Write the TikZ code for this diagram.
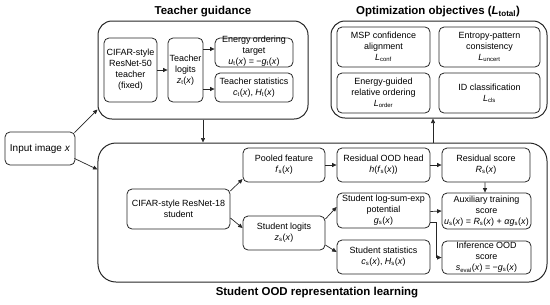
\documentclass[tikz,border=0pt]{standalone}
\usepackage{fontspec}
\setmainfont{Liberation Sans}
\usetikzlibrary{arrows.meta}
\newcommand{\sbs}[1]{\textsubscript{#1}}
\begin{document}
\begin{tikzpicture}[x=1bp,y=-1bp,
  box/.style={draw=black!85, rounded corners=5bp, line width=0.8bp, align=center, inner sep=1bp, font=\fontsize{9}{11}\selectfont},
  outer/.style={draw=black!85, rounded corners=14bp, line width=1bp},
  ttl/.style={font=\fontsize{11.5}{13}\selectfont\bfseries},
  arr/.style={-{Triangle[length=4.5bp,width=4bp]}, line width=0.7bp, draw=black!85}]
\useasboundingbox (0,0) rectangle (550,304);

% outer containers
\node[outer, minimum width=210bp, minimum height=98bp] (tg) at (203,70) {};
\node[outer, minimum width=216bp, minimum height=97bp] (obj) at (439,69.5) {};
\node[outer, rounded corners=18bp, minimum width=449bp, minimum height=139bp] (sg) at (322.5,212.5) {};

% titles
\node[ttl] (tgt) at (203,12) {Teacher guidance};
\node[ttl] (objt) at (438,12) {Optimization objectives (\textit{L}\sbs{total})};
\node[ttl] (sgt) at (317,293) {Student OOD representation learning};

% teacher
\node[box, minimum width=53bp, minimum height=64bp] (r50) at (130.5,70) {CIFAR-style\\ResNet-50\\teacher\\(fixed)};
\node[box, minimum width=35bp, minimum height=64bp] (tl) at (185.5,70) {Teacher\\logits\\\textit{z}\sbs{t}(\textit{x})};
\node[box, minimum width=78bp, minimum height=29bp] (en) at (254,52.5) {};
\node[font=\fontsize{9}{11}\selectfont, align=center, inner sep=0pt] (ent) at (254,51.5) {Energy ordering\\target\\\textit{u}\sbs{t}(\textit{x}) = −\textit{g}\sbs{t}(\textit{x})};
\node[box, minimum width=78bp, minimum height=29bp] (ts) at (254,87.5) {Teacher statistics\\\textit{c}\sbs{t}(\textit{x}), \textit{H}\sbs{t}(\textit{x})};

% objectives
\node[box, minimum width=93bp, minimum height=40bp] (msp) at (383.5,47) {MSP confidence\\alignment\\\textit{L}\sbs{conf}};
\node[box, minimum width=101bp, minimum height=40bp] (entp) at (489.5,47) {Entropy-pattern\\consistency\\\textit{L}\sbs{uncert}};
\node[box, minimum width=93bp, minimum height=40bp] (eg) at (383.5,93) {Energy-guided\\relative ordering\\\textit{L}\sbs{order}};
\node[box, minimum width=101bp, minimum height=40bp] (idc) at (489.5,93) {ID classification\\\textit{L}\sbs{cls}};

% input
\node[box, font=\fontsize{10}{12}\selectfont, minimum width=70bp, minimum height=33bp] (inp) at (40,148.5) {Input image \textit{x}};

% student
\node[box, minimum width=103bp, minimum height=40bp] (s18) at (178.5,209) {CIFAR-style ResNet-18\\student};
\node[box, minimum width=82bp, minimum height=34bp] (pool) at (284,165) {Pooled feature\\\textit{f}\sbs{s}(\textit{x})};
\node[box, minimum width=82bp, minimum height=34bp] (sl) at (284,233) {Student logits\\\textit{z}\sbs{s}(\textit{x})};
\node[box, minimum width=93bp, minimum height=34bp] (rh) at (383.5,165) {Residual OOD head\\\textit{h}(\textit{f}\sbs{s}(\textit{x}))};
\node[box, minimum width=88bp, minimum height=34bp] (rs) at (486,165) {Residual score\\\textit{R}\sbs{s}(\textit{x})};
\node[box, minimum width=93bp, minimum height=35bp] (lse) at (383.5,210.5) {Student log-sum-exp\\potential\\\textit{g}\sbs{s}(\textit{x})};
\node[box, minimum width=93bp, minimum height=34bp] (ss) at (383.5,257) {Student statistics\\\textit{c}\sbs{s}(\textit{x}), \textit{H}\sbs{s}(\textit{x})};
\node[box, minimum width=89bp, minimum height=36bp] (aux) at (486.5,211) {Auxiliary training\\score\\\textit{u}\sbs{s}(\textit{x}) = \textit{R}\sbs{s}(\textit{x}) + \textit{α}\textit{g}\sbs{s}(\textit{x})};
\node[box, minimum width=89bp, minimum height=33bp] (inf) at (486.5,257.5) {Inference OOD\\score\\\textit{s}\sbs{eval}(\textit{x}) = −\textit{g}\sbs{s}(\textit{x})};

% connectors
\draw[arr] ([xshift=-1bp,yshift=-1bp]inp.north east) -- ([yshift=10bp]tg.south west);
\draw[arr] ([xshift=-1bp,yshift=7bp]inp.south east) -- ([yshift=-27bp]sg.north west);
\draw[arr] (tg.south) -- (tg.south |- sg.north);
\draw[arr] ([xshift=-6bp]obj.south |- sg.north) -- ([xshift=-6bp]obj.south);

\draw[arr] (r50.east) -- (tl.west);
\draw[arr] ([yshift=3.5bp]tl.east |- en.west) -- ([yshift=3.5bp]en.west);
\draw[arr] ([yshift=-1.5bp]tl.east |- ts.west) -- ([yshift=-1.5bp]ts.west);

\draw[arr] ([yshift=18bp]s18.east) -- ([yshift=-14bp]pool.west);
\draw[arr] ([yshift=-9bp]s18.east) -- ([yshift=5bp]sl.west);
\draw[arr] (pool.east) -- (rh.west);
\draw[arr] (rh.east) -- (rs.west);
\draw[arr] ([xshift=-1bp]rs.south) -- ([xshift=-1.5bp]aux.north);
\draw[arr] ([yshift=14bp]sl.east) -- ([yshift=3.5bp]lse.west);
\draw[arr] ([yshift=-12bp]sl.east) -- ([yshift=5bp]ss.west);
\draw[arr] ([yshift=-1bp]lse.east) -- (aux.west);
\draw[arr] ([yshift=-11.5bp]lse.east) -- ++(5.5,0) |- (inf.west);
\end{tikzpicture}
\end{document}
